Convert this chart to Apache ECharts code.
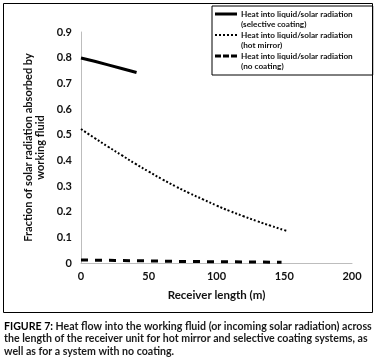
<!DOCTYPE html>
<html>
<head>
<meta charset="utf-8">
<script src="https://cdn.jsdelivr.net/npm/echarts@6/dist/echarts.min.js"></script>
<style>
  html, body { margin: 0; padding: 0; background: #fff; }
  #chart { width: 376px; height: 359px; }
</style>
</head>
<body>
<div id="chart"></div>
<script>
// values
var selectiveX = [0, 10, 20, 30, 41];
var selectiveY = [0.799, 0.786, 0.772, 0.758, 0.742];

var mirrorX = [0, 10, 20, 30, 40, 50, 60, 70, 80, 90, 100, 110, 120, 130, 140, 150, 152];
var mirrorY = [0.522, 0.487, 0.453, 0.42, 0.387, 0.356, 0.326, 0.298, 0.272, 0.248, 0.224, 0.202, 0.182, 0.163, 0.145, 0.128, 0.125];

var noCoatX = [0, 25, 50, 75, 100, 125, 148];
var noCoatY = [0.012, 0.010, 0.008, 0.006, 0.005, 0.004, 0.003];

var seriesNames = [
  'Heat into liquid/solar radiation\n(selective coating)',
  'Heat into liquid/solar radiation\n(hot mirror)',
  'Heat into liquid/solar radiation\n(no coating)'
];

var captionLines = [
  'Heat flow into the working fluid (or incoming solar radiation) across',
  'the length of the receiver unit for hot mirror and selective coating systems, as',
  'well as for a system with no coating.'
];

function pairs(xs, ys) {
  var out = [];
  for (var i = 0; i < xs.length; i++) out.push([xs[i], ys[i]]);
  return out;
}

var font = 'Lato';
var corners = ' M0,0h0.01v0.01h-0.01Z M21.99,19.99h0.01v0.01h-0.01Z';

var myChart = echarts.init(document.getElementById('chart'));

option = {
  backgroundColor: '#fff',
  animation: false,
  grid: {
    left: 81,
    right: 24,
    top: 32,
    bottom: 96
  },
  legend: {
    orient: 'vertical',
    left: 212,
    top: 6,
    selectedMode: false,
    borderColor: '#000',
    borderWidth: 1,
    padding: [3, 20, 4, 3],
    itemGap: 1,
    itemWidth: 22,
    itemHeight: 20,
    itemStyle: { borderWidth: 0 },
    textStyle: {
      fontFamily: font,
      fontSize: 8.2,
      fontWeight: 'bold',
      color: '#111',
      lineHeight: 10,
      padding: [0, 0, 0, -1]
    },
    data: [
      { name: seriesNames[0], icon: 'path://M0,3.5H22V6.5H0Z' + corners },
      { name: seriesNames[1], icon: 'path://M0,4h2v2h-2Z M4,4h2v2h-2Z M8,4h2v2h-2Z M12,4h2v2h-2Z M16,4h2v2h-2Z M20,4h2v2h-2Z' + corners },
      { name: seriesNames[2], icon: 'path://M0,3.5h6v3h-6Z M8,3.5h6v3h-6Z M16,3.5h6v3h-6Z' + corners }
    ]
  },
  xAxis: {
    type: 'value',
    min: 0,
    max: 200,
    interval: 50,
    name: 'Receiver length (m)',
    nameLocation: 'middle',
    nameGap: 26,
    nameTextStyle: { fontFamily: font, fontSize: 11.5, fontWeight: 'bold', color: '#111' },
    axisLine: { lineStyle: { color: '#bdbdbd', width: 1 } },
    axisTick: { show: false },
    splitLine: { show: false },
    axisLabel: { fontFamily: font, fontSize: 11, fontWeight: 'bold', color: '#111', margin: 8 }
  },
  yAxis: {
    type: 'value',
    min: 0,
    max: 0.9,
    interval: 0.1,
    name: 'Fraction of solar radiation absorbed by\nworking fluid',
    nameLocation: 'middle',
    nameRotate: 90,
    nameGap: 32,
    nameTextStyle: { fontFamily: font, fontSize: 11, fontWeight: 'bold', color: '#111', lineHeight: 11.5 },
    axisLine: { show: true, lineStyle: { color: '#bdbdbd', width: 1 } },
    axisTick: { show: false },
    splitLine: { show: false },
    axisLabel: { fontFamily: font, fontSize: 11, fontWeight: 'bold', color: '#111', margin: 9 }
  },
  graphic: [
    {
      type: 'rect',
      shape: { x: 3.5, y: 3.5, width: 369, height: 309 },
      style: { fill: 'none', stroke: '#000', lineWidth: 1 },
      silent: true
    },
    {
      type: 'text',
      x: 4,
      y: 320,
      style: {
        text: '{b|FIGURE 7:}{r| ' + captionLines[0] + '}\n{r|' + captionLines[1] + '}\n{r|' + captionLines[2] + '}',
        rich: {
          b: { fontFamily: 'Lato', fontSize: 10.6, fontWeight: 'bold', fill: '#000', lineHeight: 12.5 },
          r: { fontFamily: 'Lato', fontSize: 10.6, fontWeight: 'bold', fill: '#1a1a1a', lineHeight: 12.5 }
        }
      }
    }
  ],
  series: [
    {
      name: seriesNames[0],
      type: 'line',
      symbol: 'none',
      color: '#000',
      lineStyle: { color: '#000', width: 3 },
      data: pairs(selectiveX, selectiveY)
    },
    {
      name: seriesNames[1],
      type: 'line',
      symbol: 'none',
      smooth: true,
      color: '#000',
      lineStyle: { color: '#000', width: 2, type: [2, 2] },
      data: pairs(mirrorX, mirrorY)
    },
    {
      name: seriesNames[2],
      type: 'line',
      symbol: 'none',
      color: '#000',
      lineStyle: { color: '#000', width: 3, type: [7, 7] },
      data: pairs(noCoatX, noCoatY)
    }
  ]
};

myChart.setOption(option);
</script>
</body>
</html>
